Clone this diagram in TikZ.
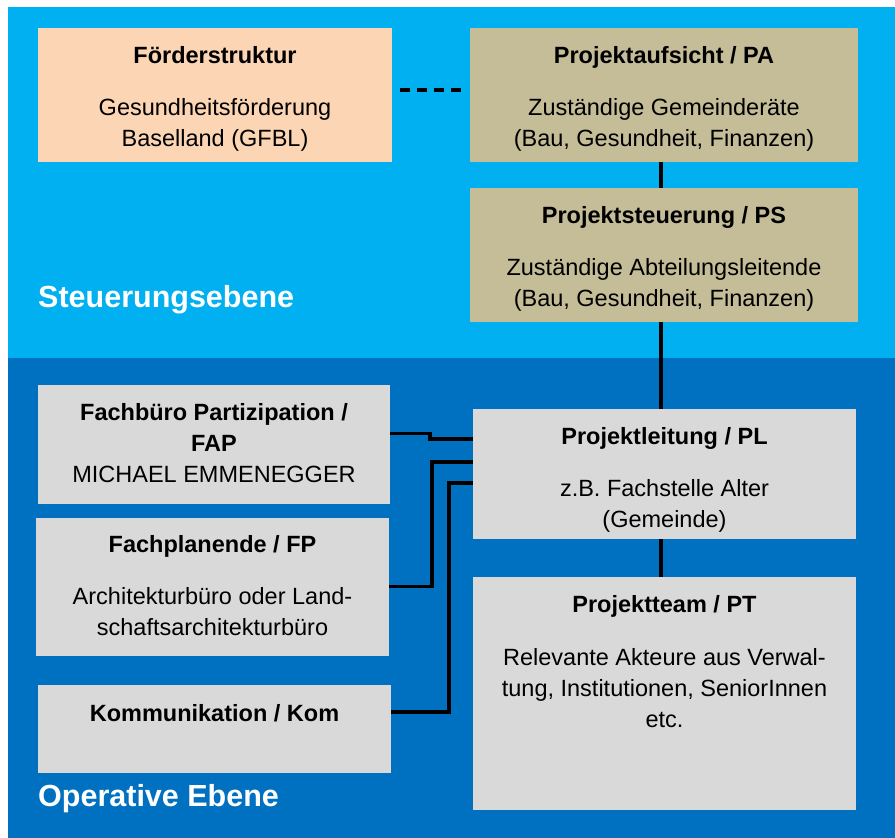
\documentclass[tikz,border=0pt]{standalone}
\usepackage{fontspec}
\setmainfont{Liberation Sans}
\usetikzlibrary{positioning}
\definecolor{skyb}{RGB}{0,176,240}
\definecolor{deepb}{RGB}{0,112,192}
\definecolor{peachc}{RGB}{252,213,181}
\definecolor{sandc}{RGB}{196,189,151}
\definecolor{boxgray}{RGB}{217,217,217}
\tikzset{box/.style={inner sep=0pt,outer sep=0pt},txt/.style={align=center,inner sep=0pt,font=\fontsize{23.5}{31}\selectfont},lvl/.style={anchor=west,inner sep=0pt,text=white,font=\fontsize{30.5}{36}\selectfont\bfseries},link/.style={line width=3.2pt},dashline/.style={line width=3.2pt,dash pattern=on 10pt off 7pt}}

\begin{document}
\begin{tikzpicture}[x=1pt,y=-1pt]
\useasboundingbox (0,0) rectangle (895,838);
% ebenen
\fill[skyb] (8,7) rectangle (895,358);
\fill[deepb] (8,358) rectangle (895,838);
\node[lvl] (steuer) at (38,300) {Steuerungsebene};
\node[lvl] (operativ) at (38,799) {Operative Ebene};
% steuerungsebene
\node[box,fill=peachc,minimum width=354pt,minimum height=134pt] (foerd) at (215,95) {};
\node[box,fill=sandc,minimum width=388pt,minimum height=134pt] (pa) at (664,95) {};
\node[box,fill=sandc,minimum width=388pt,minimum height=134pt] (ps) at (664,255) {};
\node[txt,below=18pt of foerd.north] (foerd-t) {\textbf{Förderstruktur}\\[21pt]Gesundheitsförderung\\Baselland (GFBL)};
\node[txt,below=18pt of pa.north] (pa-t) {\textbf{Projektaufsicht / PA}\\[21pt]Zuständige Gemeinderäte\\(Bau, Gesundheit, Finanzen)};
\node[txt,below=18pt of ps.north] (ps-t) {\textbf{Projektsteuerung / PS}\\[21pt]Zuständige Abteilungsleitende\\(Bau, Gesundheit, Finanzen)};
% operative ebene
\node[box,fill=boxgray,minimum width=352pt,minimum height=119pt] (fap) at (214,444.5) {};
\node[box,fill=boxgray,minimum width=353pt,minimum height=138pt] (fp) at (212.5,586.5) {};
\node[box,fill=boxgray,minimum width=353pt,minimum height=88pt] (kom) at (214.5,729) {};
\node[box,fill=boxgray,minimum width=383pt,minimum height=130pt] (pl) at (664.5,474) {};
\node[box,fill=boxgray,minimum width=383pt,minimum height=233pt] (pt) at (664.5,693.5) {};
\node[txt,below=18pt of fap.north] (fap-t) {\textbf{Fachbüro Partizipation /}\\\textbf{FAP}\\MICHAEL EMMENEGGER};
\node[txt,below=18pt of fp.north] (fp-t) {\textbf{Fachplanende / FP}\\[21pt]Architekturbüro oder Land-\\schaftsarchitekturbüro};
\node[txt,below=19pt of kom.north] (kom-t) {\textbf{Kommunikation / Kom}};
\node[txt,below=18pt of pl.north] (pl-t) {\textbf{Projektleitung / PL}\\[21pt]z.B. Fachstelle Alter\\(Gemeinde)};
\node[txt,below=18pt of pt.north] (pt-t) {\textbf{Projektteam / PT}\\[22pt]Relevante Akteure aus Verwal-\\tung, Institutionen, SeniorInnen\\etc.};
% verbindungen
\coordinate (spine) at (661,0);
\draw[dashline,shorten <=8pt,shorten >=7pt] ([yshift=5pt]foerd.east) -- ([yshift=5pt]pa.west);
\draw[link] (pa.south -| spine) -- (ps.north -| spine);
\draw[link] (ps.south -| spine) -- (pl.north -| spine);
\draw[link] (pl.south -| spine) -- (pt.north -| spine);
\draw[link] ([yshift=11pt]fap.east) -- ++(40,0) |- ([yshift=35pt]pl.west);
\draw[link] (fp.east) -- ++(43,0) |- ([yshift=12pt]pl.west);
\draw[link] ([yshift=17pt]kom.east) -- ++(58,0) |- ([yshift=-9pt]pl.west);
\end{tikzpicture}
\end{document}
